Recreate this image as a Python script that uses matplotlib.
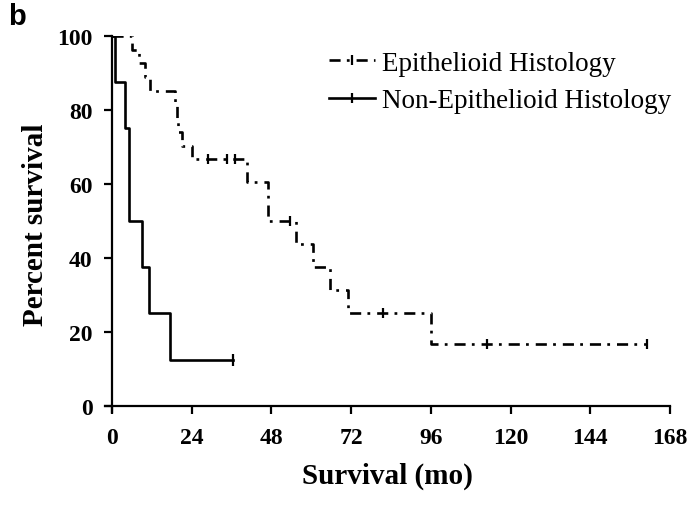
import matplotlib.pyplot as plt
from matplotlib.lines import Line2D

plt.rcParams['font.family'] = ['Liberation Serif', 'DejaVu Serif']
plt.rcParams['lines.scale_dashes'] = False

# Kaplan-Meier steps (months, percent)
epi_times = [0, 6, 8, 10, 11.5, 19, 19.5, 20, 21, 24, 40.5, 47, 55.5, 60.5, 65.5, 71, 96, 161]
epi_surv = [100, 96.3, 92.6, 88.9, 85.2, 81.5, 77.8, 74.1, 70.4, 66.7, 60.6, 50, 43.75, 37.5, 31.25, 25, 16.7, 16.7]
epi_cens_t = [29, 34.5, 37, 53.5, 81.5, 113, 161]
epi_cens_s = [66.7, 66.7, 66.7, 50, 25, 16.7, 16.7]

non_times = [0, 1, 4, 5, 9, 11, 17.5, 36.5]
non_surv = [100, 87.5, 75, 50, 37.5, 25, 12.5, 12.5]
non_cens_t = [36.5]
non_cens_s = [12.5]

x_ticks = [0, 24, 48, 72, 96, 120, 144, 168]
y_ticks = [0, 20, 40, 60, 80, 100]

epi_dash = (0, (8, 4.5, 2, 5))

fig = plt.figure(figsize=(6.94, 5.06), dpi=100)
ax = fig.add_axes([0.1518, 0.1847, 0.8136, 0.7422])

ax.step(epi_times, epi_surv, where='post', color='black', lw=1.9, linestyle=epi_dash)
ax.plot(epi_cens_t, epi_cens_s, '|', color='black', ms=7, mew=1.6)
ax.step(non_times, non_surv, where='post', color='black', lw=1.9)
ax.plot(non_cens_t, non_cens_s, '|', color='black', ms=8, mew=1.6)

ax.set_xlim(-2, 168)
ax.set_ylim(-1.5, 100)
ax.spines['left'].set_position(('data', 0))
ax.spines['bottom'].set_position(('data', 0))
ax.spines['top'].set_visible(False)
ax.spines['right'].set_visible(False)
for s in ('left', 'bottom'):
    ax.spines[s].set_linewidth(1.6)
ax.set_xticks(x_ticks)
ax.set_yticks(y_ticks)
ax.tick_params(width=1.6, length=6, labelsize=17)
ax.tick_params(axis='x', pad=9)
ax.tick_params(axis='y', pad=8)
for lbl in ax.get_xticklabels() + ax.get_yticklabels():
    lbl.set_fontweight('bold')

ax.set_xlabel('Survival (mo)', fontsize=21, fontweight='bold', labelpad=10)
ax.set_ylabel('Percent survival', fontsize=21, fontweight='bold', labelpad=6)

handles = [
    Line2D([], [], color='black', lw=1.9, linestyle=epi_dash, marker='|', ms=7, mew=1.6),
    Line2D([], [], color='black', lw=1.9, marker='|', ms=7, mew=1.6),
]
ax.legend(handles, ['Epithelioid Histology', 'Non-Epithelioid Histology'],
          loc='upper right', bbox_to_anchor=(1.045, 1.025), frameon=False,
          fontsize=19.5, handlelength=1.7, handletextpad=0.25, labelspacing=0.45)

fig.text(0.012, 0.995, 'b', fontsize=21, fontweight='bold',
         family=['Liberation Sans', 'DejaVu Sans'], va='top', ha='left')

fig.savefig('out.png', dpi=100)
